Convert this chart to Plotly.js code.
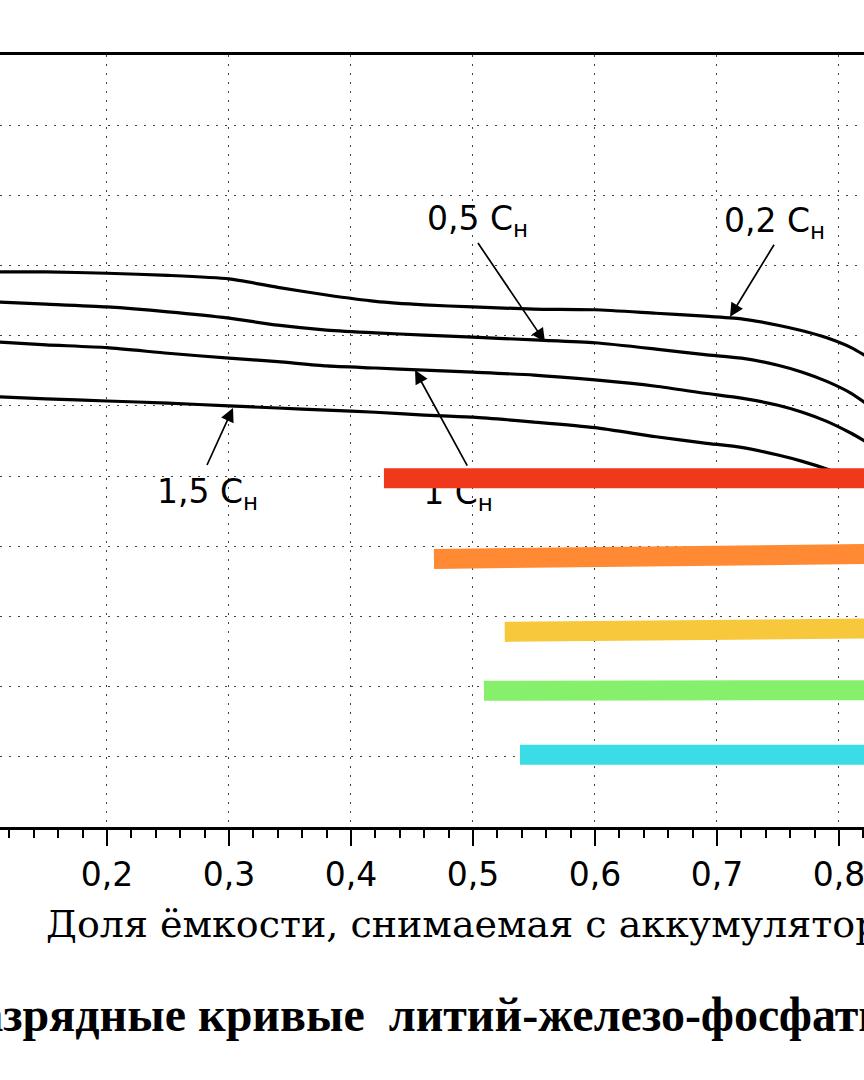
<!DOCTYPE html>
<html><head><meta charset="utf-8">
<script src="https://cdn.plot.ly/plotly-3.0.1.min.js"></script>
<style>html,body{margin:0;padding:0;overflow:hidden;background:#fff}#chart{width:864px;height:1080px}</style>
</head><body><div id="chart"></div>
<script>
// Discharge capacity fraction (x) and cell voltage (V)
const capacityX = [0.11,0.15,0.20,0.25,0.30,0.34,0.38,0.42,0.46,0.50,0.55,0.60,0.65,0.69,0.72,0.75,0.77,0.79,0.81,0.825];
const voltage02C = [3.191,3.191,3.189,3.186,3.181,3.169,3.158,3.149,3.144,3.141,3.138,3.137,3.132,3.128,3.124,3.115,3.107,3.097,3.083,3.068];
const voltage05C = [3.148,3.145,3.141,3.134,3.125,3.115,3.108,3.104,3.101,3.098,3.094,3.090,3.081,3.073,3.068,3.058,3.048,3.035,3.018,3.000];
const voltage1C  = [3.091,3.087,3.083,3.075,3.068,3.063,3.057,3.054,3.051,3.048,3.044,3.037,3.028,3.018,3.011,3.001,2.991,2.978,2.961,2.946];
const capacityX15C = [0.11,0.15,0.20,0.25,0.30,0.34,0.38,0.42,0.46,0.50,0.55,0.60,0.65,0.69,0.72,0.75,0.77,0.79,0.805];
const voltage15C = [3.013,3.010,3.007,3.004,3.000,2.997,2.994,2.991,2.987,2.984,2.977,2.969,2.956,2.947,2.941,2.930,2.921,2.910,2.900];

// Curve labels (current rate) and the point on each curve that its arrow points to
const rateLabels = ['0,2 C<sub>н</sub>','0,5 C<sub>н</sub>','1 C<sub>н</sub>','1,5 C<sub>н</sub>'];
const arrowTipX = [0.7107,0.559,0.4525,0.3033];
const arrowTipY = [3.127,3.091,3.051,2.997];
// label "1 Cн" sits partly under the red bar, so it is a text mark in the plot
const label1CX = [0.4877];
const label1CY = [2.872];

// Coloured highlight bars (start x, end x, voltage at start / end)
const barStartX = [0.427,0.468,0.526,0.509,0.5385];
const barEndX   = [0.83,0.83,0.83,0.83,0.83];
const barStartV = [2.897,2.782,2.678,2.594,2.503];
const barEndV   = [2.897,2.789,2.683,2.595,2.503];
const barColors = ['#F0381A','#FF8A33','#F8C83C','#86F06C','#3ADCE6'];

const xAxisTitle = 'Доля ёмкости, снимаемая с аккумулятора';
const captionText = 'Разрядные кривые  литий-железо-фосфатного аккумулятора';

const labelFont = {family:'DejaVu Sans, sans-serif', size:33, color:'#000'};
const traces = [];
[voltage02C, voltage05C, voltage1C].forEach(v => traces.push({x:capacityX, y:v, type:'scatter', mode:'lines',
  line:{color:'#000', width:3.2, shape:'spline', smoothing:0.6}, hoverinfo:'skip', showlegend:false}));
traces.push({x:capacityX15C, y:voltage15C, type:'scatter', mode:'lines',
  line:{color:'#000', width:3.2, shape:'spline', smoothing:0.6}, hoverinfo:'skip', showlegend:false});
traces.push({x:label1CX, y:label1CY, text:[rateLabels[2]], type:'scatter', mode:'text', textposition:'middle center',
  textfont:labelFont, hoverinfo:'skip', showlegend:false});
for (let i=0;i<barStartX.length;i++){
  traces.push({x:[barStartX[i],barEndX[i]], y:[barStartV[i],barEndV[i]], type:'scatter', mode:'lines',
    line:{color:barColors[i], width:20}, hoverinfo:'skip', showlegend:false});
}

// arrow tail offsets in pixels from the tip, and how each label sits at the tail
const arrowOffsets = [[44,-72],[-67,-99],[53,97],[-26,57]];
const labelAnchors = [['center','bottom',0],['center','bottom',0],null,['center','top',6]];
const annotations = arrowTipX.map((x,i)=>{
  const a = {x:x, y:arrowTipY[i], xref:'x', yref:'y', showarrow:true,
    ax:arrowOffsets[i][0], ay:arrowOffsets[i][1], arrowhead:2, arrowsize:1.6, arrowwidth:1.7,
    arrowcolor:'#000', standoff:0, font:labelFont};
  if (labelAnchors[i]) { a.text = rateLabels[i]; a.xanchor = labelAnchors[i][0]; a.yanchor = labelAnchors[i][1]; a.borderpad = labelAnchors[i][2]; }
  else { a.text = ''; }
  return a;
});
annotations.push({xref:'paper', yref:'paper', x:44/864, y:(827-924)/772, xanchor:'left', yanchor:'middle',
  text:xAxisTitle, showarrow:false, font:{family:'DejaVu Serif, serif', size:38, color:'#000'}});
annotations.push({xref:'paper', yref:'paper', x:-52/864, y:(827-1014)/772, xanchor:'left', yanchor:'middle',
  text:captionText, showarrow:false, font:{family:'Liberation Serif, serif', size:48, color:'#000', weight:'bold'}});

const layout = {
  width:864, height:1080, margin:{l:0, r:0, t:55, b:253, pad:0},
  paper_bgcolor:'#fff', plot_bgcolor:'#fff', separators:', ',
  showlegend:false,
  xaxis:{range:[0.1123,0.8205], tick0:0, dtick:0.1, tickformat:'.1f',
    showline:true, linecolor:'#000', linewidth:3, mirror:true,
    ticks:'outside', ticklen:16, tickwidth:2, tickcolor:'#000', ticklabelstandoff:0,
    ticklabeloverflow:'allow',
    tickfont:{family:'DejaVu Sans, sans-serif', size:33, color:'#000'},
    showgrid:true, gridcolor:'#444', gridwidth:1, griddash:'2px,7px', zeroline:false,
    minor:{dtick:0.02, ticks:'outside', ticklen:8, tickwidth:2, tickcolor:'#000', showgrid:false}},
  yaxis:{range:[2.4,3.5], tick0:2.4, dtick:0.1, showticklabels:false, ticks:'', showline:false,
    showgrid:true, gridcolor:'#444', gridwidth:1, griddash:'2px,7px', zeroline:false},
  annotations:annotations
};
Plotly.newPlot('chart', traces, layout, {staticPlot:true, displayModeBar:false});
</script></body></html>
